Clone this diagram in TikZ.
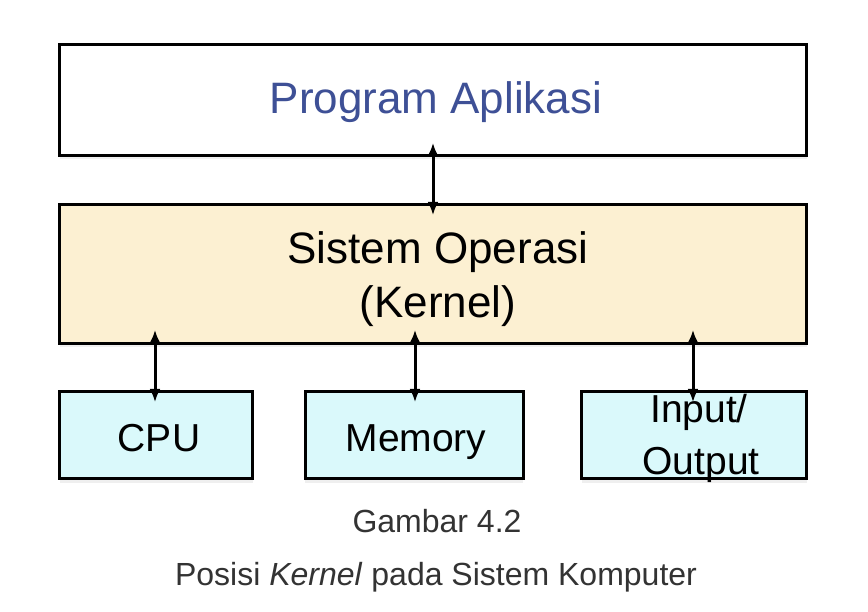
\documentclass[tikz,border=0pt]{standalone}
\usepackage{fontspec}
\setmainfont{Liberation Sans}
\usetikzlibrary{arrows.meta,calc,shadows}
\definecolor{kernfill}{RGB}{252,240,210}
\definecolor{hwfill}{RGB}{218,249,251}
\definecolor{apptext}{RGB}{62,80,150}
\definecolor{captext}{RGB}{51,51,51}
\tikzset{
  box/.style={draw=black, line width=3pt, rectangle, inner sep=0pt,
    drop shadow={opacity=0.12, shadow xshift=0pt, shadow yshift=-4pt}},
  bigtxt/.style={anchor=base, inner sep=0pt, font=\fontsize{44}{50}\selectfont},
  hwtxt/.style={anchor=base, inner sep=0pt, font=\fontsize{39}{45}\selectfont},
  captxt/.style={anchor=base, inner sep=0pt, text=captext, font=\fontsize{32}{38}\selectfont},
  link/.style={line width=3pt, {Latex[length=13pt,width=11pt]}-{Latex[length=13pt,width=11pt]}}
}
\begin{document}
\begin{tikzpicture}[x=1pt,y=-1pt]
\useasboundingbox (0,0) rectangle (868,612);
\fill[white] (0,0) rectangle (868,612);
% boxes
\node[box, fill=white, minimum width=747pt, minimum height=111pt] (app) at (433,100) {};
\node[box, fill=kernfill, minimum width=747pt, minimum height=139pt] (kern) at (433,274) {};
\node[box, fill=hwfill, minimum width=193pt, minimum height=87pt] (cpu) at (156,435) {};
\node[box, fill=hwfill, minimum width=218pt, minimum height=87pt] (mem) at (414,435) {};
\node[box, fill=hwfill, minimum width=225pt, minimum height=87pt] (io) at (694,435) {};
% texts
\node[bigtxt, text=apptext] (tapp) at (436,114) {Program Aplikasi};
\node[bigtxt] (tk1) at (438,264) {Sistem Operasi};
\node[bigtxt] (tk2) at (438,318) {(Kernel)};
\node[hwtxt] (tcpu) at (159,451) {CPU};
\node[hwtxt] (tmem) at (416,451) {Memory};
\node[hwtxt] (tio1) at (699,422) {Input/};
\node[hwtxt] (tio2) at (701,474) {Output};
\node[captxt] (cap1) at (437,532) {Gambar 4.2};
\node[captxt] (cap2) at (436,585) {Posisi \textit{Kernel} pada Sistem Komputer};
% connectors
\coordinate (a1) at ($(app.south)+(0,-14)$);
\coordinate (a2) at ($(kern.north)+(0,12)$);
\draw[link] (a1) -- (a2);
\coordinate (c1) at ($(kern.south -| cpu.north)+(-1,-15)$);
\coordinate (c2) at ($(cpu.north)+(-1,12)$);
\draw[link] (c1) -- (c2);
\coordinate (m1) at ($(kern.south -| mem.north)+(1,-15)$);
\coordinate (m2) at ($(mem.north)+(1,12)$);
\draw[link] (m1) -- (m2);
\coordinate (i1) at ($(kern.south -| io.north)+(-1,-15)$);
\coordinate (i2) at ($(io.north)+(-1,12)$);
\draw[link] (i1) -- (i2);
\end{tikzpicture}
\end{document}
